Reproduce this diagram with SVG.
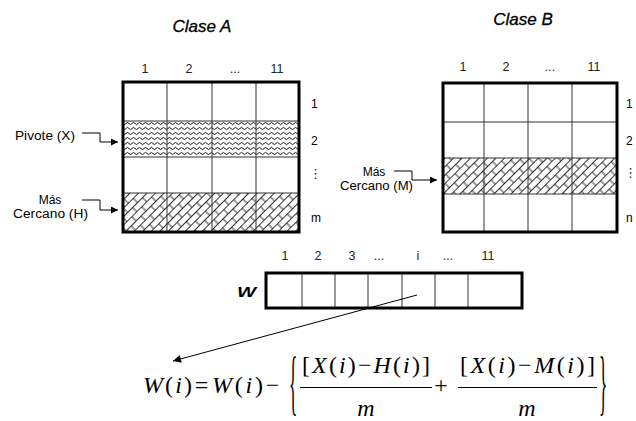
<svg xmlns="http://www.w3.org/2000/svg" width="636" height="421" viewBox="0 0 636 421">
<style>
.lbl{font-family:"Liberation Sans",Arial,sans-serif;font-size:12px;fill:#000}
.num{font-family:"Liberation Sans",Arial,sans-serif;font-size:12.5px;fill:#222;text-anchor:middle}
.ttl{font-family:"Liberation Sans",Arial,sans-serif;font-size:17px;font-style:italic;fill:#000;text-anchor:middle;stroke:#000;stroke-width:0.3}
.vd{font-family:"DejaVu Sans",sans-serif;font-size:13px;fill:#222}
.math{font-family:"Liberation Serif","Times New Roman",serif;font-size:24px;fill:#000}
.brace{font-family:"Liberation Serif","Times New Roman",serif;font-size:72px;fill:#000}
.it{font-style:italic}
.inner{stroke:#333;stroke-width:1;fill:none}
.outer{stroke:#000;stroke-width:3;fill:none}
.con{stroke:#000;stroke-width:1;fill:none}
.bar{stroke:#000;stroke-width:1}
</style>
<defs>
<marker id="ah" viewBox="0 0 10 10" refX="10" refY="5" markerWidth="7" markerHeight="7" orient="auto" markerUnits="userSpaceOnUse">
<path d="M0,0 L10,5 L0,10 z" fill="#000"/>
</marker>
<marker id="ah2" viewBox="0 0 10 10" refX="10" refY="5" markerWidth="9" markerHeight="8" orient="auto" markerUnits="userSpaceOnUse">
<path d="M0,0 L10,5 L0,10 z" fill="#000"/>
</marker>
<pattern id="wave" width="6" height="5" patternUnits="userSpaceOnUse" y="1">
<rect width="6" height="5" fill="#fff"/>
<path d="M0,2.5 Q1.5,0.3 3,2.5 T6,2.5" stroke="#000" stroke-width="0.9" fill="none"/>
</pattern>
<pattern id="brick" width="14" height="12" patternUnits="userSpaceOnUse" patternTransform="rotate(-45)">
<rect width="14" height="12" fill="#fff"/>
<path d="M0,0.5 H14 M0,6.5 H14 M3,0.5 V6.5 M10,6.5 V12.5" stroke="#000" stroke-width="0.8" fill="none"/>
</pattern>
</defs>

<g id="titleA"><text class="ttl" x="202" y="32">Clase A</text></g>
<g id="titleB"><text class="ttl" x="523" y="25">Clase B</text></g>

<g id="matrixA">
<text class="num" x="145" y="73">1</text>
<text class="num" x="189" y="73">2</text>
<text class="num" x="235" y="73">...</text>
<text class="num" x="277" y="73">11</text>
<rect x="123" y="82" width="176" height="150" fill="#fff"/>
<rect x="123" y="121" width="176" height="36" fill="url(#wave)"/>
<rect x="123" y="193" width="176" height="39" fill="url(#brick)"/>
<path class="inner" d="M167,82V232 M212,82V232 M256,82V232 M123,121H299 M123,157H299 M123,193H299"/>
<rect class="outer" x="123" y="82" width="176" height="150"/>
<text class="lbl" x="311" y="108">1</text>
<text class="lbl" x="311" y="145">2</text>
<text class="vd" x="309" y="178">⋮</text>
<text class="lbl" x="311" y="222">m</text>
</g>

<g id="matrixB">
<text class="num" x="463" y="71">1</text>
<text class="num" x="506" y="71">2</text>
<text class="num" x="550" y="71">...</text>
<text class="num" x="594" y="71">11</text>
<rect x="443" y="83" width="174" height="149" fill="#fff"/>
<rect x="443" y="158" width="174" height="36" fill="url(#brick)"/>
<path class="inner" d="M484,83V232 M528,83V232 M572,83V232 M443,122H617 M443,158H617 M443,194H617"/>
<rect class="outer" x="443" y="83" width="174" height="149"/>
<text class="lbl" x="626" y="108">1</text>
<text class="lbl" x="626" y="145">2</text>
<text class="vd" x="624" y="177">⋮</text>
<text class="lbl" x="626" y="222">n</text>
</g>

<g id="labelX"><text class="lbl" x="15" y="140" textLength="60" lengthAdjust="spacingAndGlyphs">Pivote (X)</text></g>
<g id="labelH">
<text class="lbl" x="50" y="204" text-anchor="middle">Más</text>
<text class="lbl" x="13" y="218" textLength="75" lengthAdjust="spacingAndGlyphs">Cercano (H)</text>
</g>
<g id="labelM">
<text class="lbl" x="374" y="176" text-anchor="middle">Más</text>
<text class="lbl" x="340" y="190" textLength="73" lengthAdjust="spacingAndGlyphs">Cercano (M)</text>
</g>

<g id="vectorW">
<text x="237" y="297" font-family="Liberation Sans,Arial,sans-serif" font-size="14" font-weight="bold" font-style="italic" textLength="19" lengthAdjust="spacingAndGlyphs">W</text>
<text class="num" x="285" y="260">1</text>
<text class="num" x="318" y="260">2</text>
<text class="num" x="352" y="260">3</text>
<text class="num" x="379" y="260">...</text>
<text class="num" x="418" y="260">i</text>
<text class="num" x="448" y="260">...</text>
<text class="num" x="488" y="260">11</text>
<rect x="266" y="273" width="256" height="35" fill="#fff"/>
<path class="inner" d="M302,273V308 M335,273V308 M368,273V308 M402,273V308 M435,273V308 M468,273V308"/>
<rect class="outer" x="266" y="273" width="256" height="35"/>
</g>

<g id="connectors">
<path class="con" d="M82,133H100V142H118" marker-end="url(#ah)"/>
<path class="con" d="M82,200H100V210H118" marker-end="url(#ah)"/>
<path class="con" d="M394,171H412V180H437" marker-end="url(#ah)"/>
<path class="con" stroke-width="1.3" d="M417,295L173,361" marker-end="url(#ah2)"/>
</g>

<g id="formula">
<text class="math" x="143" y="393" textLength="49"><tspan class="it">W</tspan>(<tspan class="it">i</tspan>)</text>
<text class="math" x="201.5" y="393" text-anchor="middle">=</text>
<text class="math" x="212" y="393" textLength="51"><tspan class="it">W</tspan>(<tspan class="it">i</tspan>)</text>
<text class="math" x="272.5" y="393" text-anchor="middle">−</text>
<text class="brace" transform="translate(289,406) scale(0.24,1)" x="0" y="0">{</text>
<text class="math" x="302" y="373" textLength="128">[<tspan class="it">X</tspan>(<tspan class="it">i</tspan>)−<tspan class="it">H</tspan>(<tspan class="it">i</tspan>)]</text>
<line class="bar" x1="300" y1="387.5" x2="432" y2="387.5"/>
<text class="math it" x="366" y="416" text-anchor="middle">m</text>
<text class="math" x="441" y="393" text-anchor="middle">+</text>
<text class="math" x="460" y="373" textLength="135">[<tspan class="it">X</tspan>(<tspan class="it">i</tspan>)−<tspan class="it">M</tspan>(<tspan class="it">i</tspan>)]</text>
<line class="bar" x1="458" y1="387.5" x2="597" y2="387.5"/>
<text class="math it" x="527" y="416" text-anchor="middle">m</text>
<text class="brace" transform="translate(599,406) scale(0.24,1)" x="0" y="0">}</text>
</g>
</svg>
